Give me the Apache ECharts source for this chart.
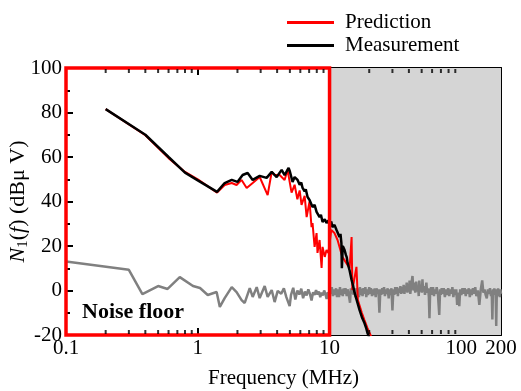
<!DOCTYPE html>
<html>
<head>
<meta charset="utf-8">
<script src="https://cdn.jsdelivr.net/npm/echarts@6/dist/echarts.min.js"></script>
<style>
    html, body { margin: 0; padding: 0; background: #fff; }
    #chart { width: 521px; height: 391px; }
</style>
</head>
<body>
<div id="chart"></div>
<script>
    // [frequency MHz, level dBuV]
    const prediction = [
        [0.2, 81.5], [0.4, 69.8], [0.6, 59.5], [0.8, 53.3], [1.0, 50], [1.4, 44],
        [1.6, 47.4], [1.81, 48.3], [1.97, 47.4], [2.15, 49.7], [2.35, 46.1], [2.61, 48.3],
        [2.95, 51], [3.39, 42.9], [3.64, 53.3], [3.83, 51.9], [4.18, 51.9], [4.56, 49.7],
        [4.8, 54.2], [5.15, 44], [5.43, 47.5], [5.7, 41], [5.93, 45], [6.13, 38.5],
        [6.47, 42.5], [6.7, 33], [7.05, 40], [7.3, 28.5], [7.43, 30.3], [7.7, 19.6],
        [7.97, 25.8], [8.1, 16.9], [8.4, 22.7], [8.7, 10.1], [8.85, 19.6], [9.2, 15.1],
        [9.48, 18.2], [9.8, 16.9], [10.3, 27.2], [10.9, 25.8], [11.5, 22.7], [12.5, 15.1],
        [14.2, 10], [14.7, 24], [14.9, 0.2], [16.0, 10.6], [16.4, -4.3], [17.6, -10.1],
        [18.4, -13.3], [19.4, -16.9], [20.8, -21]
    ];
    const measurement = [
        [0.2, 81.5], [0.4, 70], [0.6, 60], [0.8, 53], [1.0, 49.5], [1.4, 44.3],
        [1.6, 48.3], [1.81, 49.7], [2.0, 48.8], [2.19, 51.9], [2.39, 52.8], [2.61, 49.7],
        [2.95, 51.5], [3.33, 50.6], [3.64, 53.3], [3.97, 51], [4.33, 54.2], [4.56, 51.9],
        [4.89, 55.1], [5.0, 53.5], [5.24, 48.8], [5.43, 51], [5.72, 49.7], [5.93, 47.5],
        [6.1, 48.5], [6.24, 46.1], [6.47, 44.5], [6.6, 45.5], [6.81, 42], [7.05, 40.7],
        [7.2, 41.5], [7.43, 37.5], [7.7, 38.5], [7.97, 35.3], [8.2, 36], [8.4, 33],
        [8.6, 34], [8.85, 30.8], [9.2, 32], [9.48, 30.3], [9.8, 31.5], [10.0, 29.4],
        [10.3, 31], [10.5, 28.5], [10.9, 29.5], [11.3, 27.2], [11.6, 28], [11.9, 24],
        [12.1, 25.5], [12.3, 21.3], [12.4, 10], [12.6, 20], [13.0, 18.2], [13.3, 16],
        [13.5, 15], [13.7, 12.4], [14.2, 9], [14.7, 4.7], [15.1, 2], [15.5, -1.1],
        [16.2, -5], [16.9, -8.8], [17.6, -12], [18.4, -14.6], [19.0, -17], [19.4, -19.1],
        [20.0, -21]
    ];
    const noiseFloor = [
        [0.1, 13], [0.3, 9.3], [0.38, -1.6], [0.5, 2], [0.59, 0.7], [0.73, 6],
        [0.92, 2], [1.04, 1.1], [1.19, -2], [1.39, -0.7], [1.47, -7.4], [1.6, -3.4],
        [1.81, 1.5], [1.97, -0.7], [2.15, -4.3], [2.27, -5.6], [2.48, 1.1], [2.61, -2.9],
        [2.8, 1.5], [2.95, -3.4], [3.22, 2], [3.39, -2.9], [3.64, 0.2], [3.83, -5.2],
        [4.04, -0.2], [4.3, -1.5], [4.5, 1], [4.7, -3], [4.98, -7], [5.1, -2],
        [5.3, 1.2], [5.5, -4], [5.7, 0], [5.9, -1.8], [6.1, 0.8], [6.3, -3.5],
        [6.5, -0.5], [6.7, -2.2], [6.9, 0.5], [7.1, -1.5], [7.3, -4.5], [7.5, -0.8],
        [7.7, -2], [7.9, 0.2], [8.1, -1.8], [8.3, -0.5], [8.5, -3], [8.7, -1],
        [8.9, -2.2], [9.1, 0], [9.3, -1.5], [9.5, -3.8], [9.7, -0.8], [9.9, -2],
        [10.2, -1], [10.4, 1.5], [10.6, -2.5], [10.8, 0.5], [11, -2], [11.2, 1],
        [11.4, -3], [11.6, 0.5], [11.8, -3], [12, 1.5], [12.2, -2], [12.4, 0.5],
        [12.6, -2.5], [12.8, 1], [13, -1.5], [13.2, 1], [13.5, -2.5], [13.7, 0.5],
        [14, -2], [14.3, -5.5], [14.5, 1], [14.7, -1.5], [15, 1.5], [15.2, -2],
        [15.5, 0.5], [15.7, -3], [16, 1], [16.2, -1.5], [16.5, 1], [16.7, -3],
        [17, 1.5], [17.2, -2], [17.5, 0.8], [17.8, -2.5], [18.1, 1], [18.4, -1.5],
        [18.7, 1.5], [19, -3], [19.3, 0.5], [19.6, -2], [20, 1.5], [20.3, -1.5],
        [20.6, 1], [21, -2.5], [21.3, 0.5], [21.7, -2], [22, 1], [22.4, -3],
        [22.7, 1], [23.1, -1.5], [23.5, 0.5], [23.9, -10], [24.3, 0.5], [24.7, -2],
        [25.1, 1], [25.5, -1.5], [25.9, 1.5], [26.3, -2.5], [26.7, 0.5], [27.2, -1.5],
        [27.6, 1], [28.1, -3.5], [28.5, 0.5], [29, -2], [29.5, 1], [30, -9],
        [30.5, 0.5], [31, -2], [31.5, 1.5], [32, -1.5], [32.5, 1.5], [33, -2.5],
        [33.5, 1], [34, -1], [34.5, 2], [35, -1.5], [35.5, 1.5], [36, -1],
        [36.5, 2.5], [37, -1.5], [37.5, 2], [38, -0.5], [38.5, 3.5], [39, -1],
        [39.5, 2.5], [40, -0.5], [40.5, 4.5], [41, -1.5], [41.8, 3], [42.6, 6.5],
        [43.3, 0], [44, 3.5], [44.7, -1], [45.5, 4], [46.2, -0.5], [47, 2],
        [47.5, -2.5], [48, 4.5], [48.7, -0.5], [49.5, 2.5], [50.1, -1], [50.7, 5],
        [51.3, -0.5], [52, 2], [53, -2], [54.3, 3.5], [55, -1], [56, 1],
        [56.7, -3], [57.3, -12.5], [58, -0.5], [59, 1.5], [60, -2], [61, 1.5],
        [62, -2.5], [63, 0.5], [64, -1.5], [65, 1.5], [66.5, -2], [68, -11],
        [69, 0.5], [70, -2], [71, 1], [72, -1.5], [73.5, 1], [75, -3],
        [76.5, 0.5], [78, -2], [79.5, 1], [81, -2.5], [82.5, 0.5], [84, -1.5],
        [85.5, 1.5], [87, -3], [88.5, 0.5], [90, -2], [91.5, 0.5], [93, -6.5],
        [94.7, -1], [96.5, -7], [98, 0.5], [100, -2], [102, 1], [104, -1.5],
        [106, 1], [108, -2.5], [110, 0.5], [112, -1.5], [114, 1], [116, -3],
        [118, 0.5], [120, -2], [122.5, 1], [125, -1.5], [127.5, 1.5], [130, -2.5],
        [133.5, 0], [137, -6.5], [140.5, 0.5], [144, 4.5], [147, -1], [150, 0.5],
        [153, -2], [156, -3.5], [159, 0.5], [162, -1.5], [165, 1], [168, -2.5],
        [170, 0], [172, -13], [174, 0.5], [176, -2], [178, 1], [180, -1.5],
        [182, 0.5], [184, -16], [186, 0.5], [188, -2.5], [190, 1], [192, -1.5],
        [194, 0.5], [196, -3], [198, 0.5], [200, -1.5]
    ];
    const xMinorTicks = [0.2, 0.3, 0.4, 0.5, 0.6, 0.7, 0.8, 0.9, 2, 3, 4, 5, 6, 7, 8, 9,
        20, 30, 40, 50, 60, 70, 80, 90];
    const predictedBand = [0.1, 10];
    const shadedBand = [10, 200];

    const serif = '"Liberation Serif", "DejaVu Serif", serif';
    const chart = echarts.init(document.getElementById('chart'));

    const axisLine = { onZero: false, lineStyle: { color: '#000', width: 2 } };
    const xAxisBase = {
        type: 'log',
        logBase: 10,
        min: 0.1,
        max: 200,
        splitLine: { show: false },
        axisLine: axisLine,
        axisTick: { inside: true, length: 7, lineStyle: { color: '#000', width: 2 } },
    };
    const yAxisBase = {
        type: 'value',
        min: -20,
        max: 100,
        interval: 20,
        splitLine: { show: false },
        axisLine: axisLine,
        axisTick: { inside: true, length: 7, lineStyle: { color: '#000', width: 2 } },
        minorTick: { show: true, splitNumber: 2, length: 4, lineStyle: { color: '#000', width: 2 } },
        minorSplitLine: { show: false },
    };

    let option = {
        animation: false,
        backgroundColor: '#fff',
        grid: { left: 66, right: 20, top: 68, bottom: 56, outerBoundsMode: 'none', containLabel: false },
        legend: {
            data: ['Prediction', 'Measurement'],
            orient: 'vertical',
            left: 282,
            top: 7,
            icon: 'rect',
            itemWidth: 47,
            itemHeight: 3,
            itemGap: 2,
            textStyle: { fontFamily: serif, fontSize: 21, color: '#000', padding: [0, 0, 0, 6] },
        },
        graphic: [{
            type: 'text',
            left: 82,
            top: 301,
            z: 10,
            style: { text: 'Noise floor', font: 'bold 22px ' + serif, fill: '#000' },
        }],
        xAxis: [
            Object.assign({}, xAxisBase, {
                position: 'bottom',
                name: 'Frequency (MHz)',
                nameLocation: 'middle',
                nameGap: 33,
                nameMoveOverlap: false,
                nameTextStyle: { fontFamily: serif, fontSize: 21, color: '#000' },
                axisLabel: {
                    fontFamily: serif, fontSize: 21, color: '#000', margin: 3,
                    formatter: (v) => String(+(+v).toPrecision(3)),
                },
            }),
            Object.assign({}, xAxisBase, { position: 'top', axisLabel: { show: false } }),
        ],
        yAxis: [
            Object.assign({}, yAxisBase, {
                position: 'left',
                name: '{i|N}{s|1}({i|f}) (dBμ V)',
                nameLocation: 'middle',
                nameGap: 35,
                nameMoveOverlap: false,
                nameTextStyle: {
                    fontFamily: serif, fontSize: 22, color: '#000',
                    rich: {
                        i: { fontFamily: serif, fontSize: 22, fontStyle: 'italic', color: '#000' },
                        s: { fontFamily: serif, fontSize: 15, color: '#000', padding: [10, 0, 0, 0] },
                    },
                },
                axisLabel: { fontFamily: serif, fontSize: 21, color: '#000', margin: 4 },
            }),
            Object.assign({}, yAxisBase, { position: 'right', axisLabel: { show: false } }),
        ],
        series: [
            {
                name: 'Noise floor',
                type: 'line',
                data: noiseFloor,
                showSymbol: false,
                z: 2,
                lineStyle: { color: '#808080', width: 2.5 },
                itemStyle: { color: '#808080' },
                markArea: {
                    silent: true,
                    z: 1,
                    itemStyle: { color: '#d5d5d5' },
                    data: [[{ xAxis: shadedBand[0], yAxis: -20 }, { xAxis: shadedBand[1], yAxis: 100 }]],
                },
            },
            {
                name: 'Prediction',
                type: 'line',
                data: prediction,
                showSymbol: false,
                z: 3,
                lineStyle: { color: '#ff0000', width: 2 },
                itemStyle: { color: '#ff0000' },
            },
            {
                name: 'Measurement',
                type: 'line',
                data: measurement,
                showSymbol: false,
                z: 3,
                lineStyle: { color: '#000', width: 2.5 },
                itemStyle: { color: '#000' },
                markArea: {
                    silent: true,
                    z: 4,
                    itemStyle: { color: 'rgba(0,0,0,0)', borderColor: '#ff0000', borderWidth: 3.5 },
                    data: [[{ xAxis: predictedBand[0], yAxis: -20 }, { xAxis: predictedBand[1], yAxis: 100 }]],
                },
            },
            {
                name: 'minorBottom',
                type: 'scatter',
                data: xMinorTicks.map((f) => [f, -20]),
                symbol: 'rect',
                symbolSize: [2, 4],
                symbolOffset: [0, -3],
                clip: false,
                silent: true,
                z: 6,
                itemStyle: { color: '#000' },
            },
            {
                name: 'minorTop',
                type: 'scatter',
                data: xMinorTicks.map((f) => [f, 100]),
                symbol: 'rect',
                symbolSize: [2, 4],
                symbolOffset: [0, 3],
                clip: false,
                silent: true,
                z: 6,
                itemStyle: { color: '#000' },
            },
        ],
    };
    chart.setOption(option);
</script>
</body>
</html>
